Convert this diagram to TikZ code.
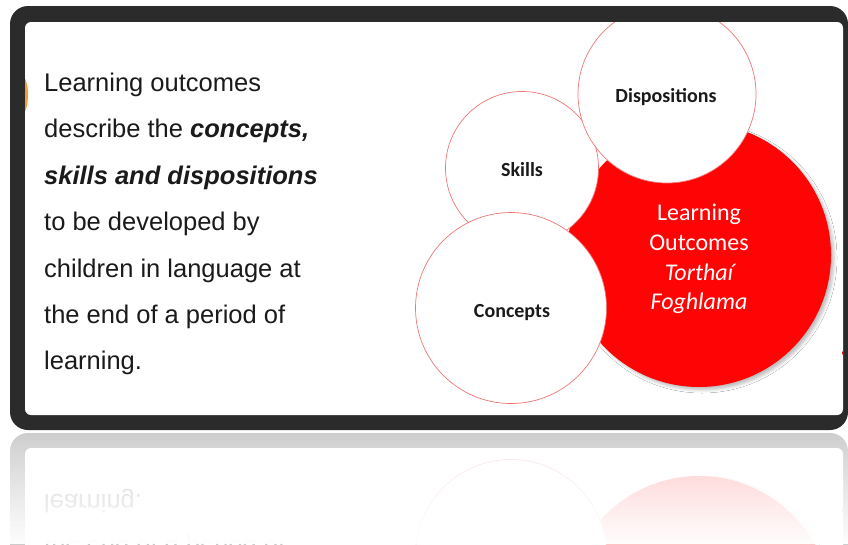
\documentclass[tikz,border=0pt]{standalone}
\usepackage{fontspec}
\setmainfont{Liberation Sans}
\newfontfamily\calibri{Carlito}
\usetikzlibrary{shadows.blur}
\definecolor{framegrey}{RGB}{43,43,43}
\definecolor{ringred}{RGB}{242,118,118}
\definecolor{lored}{RGB}{254,4,4}
\definecolor{inktext}{RGB}{26,26,26}
\tikzset{bubble/.style={circle, draw=ringred, line width=0.7pt, fill=white, minimum size=#1, inner sep=0pt}}
\tikzset{bubblelabel/.style={inner sep=0pt, text=inktext, font=\calibri\bfseries\fontsize{20}{24}\selectfont}}
\tikzset{introline/.style={anchor=base west, inner sep=0pt, text=inktext, font=\fontsize{25.5}{30}\selectfont}}
\tikzset{lotext/.style={anchor=base, inner sep=0pt, text=white, font=\calibri\fontsize{24}{28}\selectfont}}

\newif\ifmirror
\mirrorfalse

\newcommand{\slidebody}{%
    \fill[framegrey, rounded corners=18pt] (10,6) rectangle (848,430);
    \fill[white, rounded corners=6pt] (25,22) rectangle (843,415);
    \begin{scope}
        \clip[rounded corners=6pt] (25,22) rectangle (843,415);
        \fill[orange, opacity=0.8] (22,95) ellipse (6 and 19);
        \fill[lored!75!black] (845,353) circle (3);

        \node[circle, fill=lored, minimum size=264pt, inner sep=0pt,
              blur shadow={shadow xshift=3pt, shadow yshift=-3pt, shadow blur radius=3pt, shadow opacity=25}]
              (outcomes) at (699,255) {};
        \node[bubble=153pt] (skills) at (522,168) {};
        \node[bubble=178pt] (dispositions) at (667,94) {};
        \node[bubble=191pt] (concepts) at (511,308) {};

        \ifmirror\else
            \node[bubblelabel] (skillstext) at (522,170) {Skills};
            \node[bubblelabel] (dispositionstext) at (666,97) {Dispositions};
            \node[bubblelabel] (conceptstext) at (512,313) {Concepts};

            \node[lotext] (lo1) at (699,220) {Learning};
            \node[lotext] (lo2) at (699,250) {Outcomes};
            \node[lotext, font=\calibri\itshape\fontsize{24}{28}\selectfont] (lo3) at (699,280) {Torthaí};
            \node[lotext, font=\calibri\itshape\fontsize{24}{28}\selectfont] (lo4) at (699,309) {Foghlama};

            \foreach \n/\y/\txt in {1/91/{Learning outcomes},
                                    2/137/{describe the \textbf{\textit{concepts,}}},
                                    3/184/{\textbf{\textit{skills and dispositions}}},
                                    4/230/{to be developed by},
                                    5/277/{children in language at}}
                \node[introline] (intro\n) at (44,\y) {\txt};
        \fi
        \node[introline] (intro6) at (44,323) {the end of a period of};
        \node[introline] (intro7) at (44,369) {learning.};
    \end{scope}
}

\begin{document}
\begin{tikzpicture}[x=1pt, y=-1pt]
    \useasboundingbox (0,0) rectangle (848,544);

    \slidebody

    % reflection
    \mirrortrue
    \begin{scope}
        \clip (0,432) rectangle (848,544);
        \begin{scope}[shift={(0,863)}, yscale=-1, transform shape, transparency group, opacity=0.24]
            \slidebody
        \end{scope}
        \foreach \k in {0,...,55} {
            \pgfmathsetmacro{\op}{0.97*(\k/55)^0.9}
            \fill[white, opacity=\op] (0,432+2*\k) rectangle (848,434+2*\k);
        }
    \end{scope}

\end{tikzpicture}
\end{document}
